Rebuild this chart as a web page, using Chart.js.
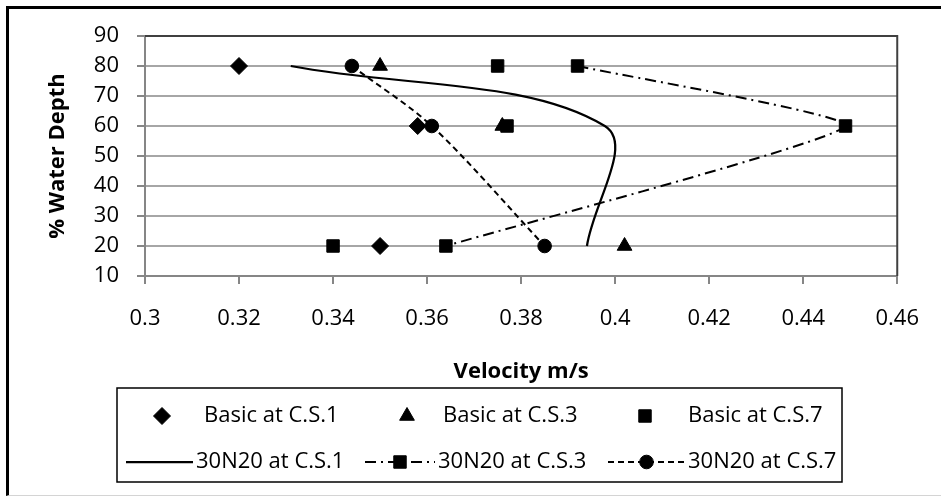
<!DOCTYPE html>
<html>
<head>
<meta charset="utf-8">
<script src="https://cdn.jsdelivr.net/npm/chart.js@4.4.1/dist/chart.umd.min.js"></script>
<style>
    html, body { margin: 0; padding: 0; background: #fff; }
    #frame { position: absolute; left: 6px; top: 6px; width: 1000px; height: 486px;
             border-left: 3px solid #000; border-top: 3px solid #000; border-bottom: 1px solid #d4d4d4; }
    #wrap { position: absolute; left: 0; top: 0; width: 941px; height: 497px; }
</style>
</head>
<body>
<div id="frame"></div>
<div id="wrap"><canvas id="depthChart" width="941" height="497"></canvas></div>
<script>
// depths (% water depth) shared by every series
const depths = [80, 60, 20];

// velocities (m/s)
const basicCS1 = [0.32, 0.358, 0.35];
const basicCS3 = [0.35, 0.376, 0.402];
const basicCS7 = [0.375, 0.377, 0.34];
const n30N20CS1 = [0.331, 0.3978, 0.394];
const n30N20CS3 = [0.392, 0.449, 0.364];
const n30N20CS7 = [0.344, 0.361, 0.385];

const seriesLabels = ['Basic at C.S.1', 'Basic at C.S.3', 'Basic at C.S.7',
                      '30N20 at C.S.1', '30N20 at C.S.3', '30N20 at C.S.7'];

const xTicks = [0.3, 0.32, 0.34, 0.36, 0.38, 0.4, 0.42, 0.44, 0.46];
const yTicks = [10, 20, 30, 40, 50, 60, 70, 80, 90];

const FONT = "'Open Sans', 'Liberation Sans', sans-serif";
const FONT_SIZE = 22;

function points(vel) {
    return vel.map((v, i) => ({ x: v, y: depths[i] }));
}

// top and right edges of the plot area are darker in the original
const plotFrame = {
    id: 'plotFrame',
    beforeDatasetsDraw(chart) {
        const { ctx, chartArea: a } = chart;
        ctx.save();
        ctx.strokeStyle = '#404040';
        ctx.lineWidth = 2;
        ctx.beginPath();
        ctx.moveTo(a.left, a.top);
        ctx.lineTo(a.right, a.top);
        ctx.lineTo(a.right, a.bottom);
        ctx.stroke();
        ctx.restore();
    }
};

// legend boxed under the axis title, 3 entries per row, line samples with markers
const boxLegend = {
    id: 'boxLegend',
    afterDraw(chart) {
        const ctx = chart.ctx;
        const box = { left: 117, top: 388, right: 842, bottom: 482 };
        const rowsY = [416, 462];
        const slots = [
            { mx: 162, tx: 204 }, { mx: 407, tx: 443 }, { mx: 645, tx: 688 },
            { x0: 126, x1: 193, tx: 196 }, { x0: 365, x1: 435, tx: 438 }, { x0: 608, x1: 685, tx: 688 }
        ];
        ctx.save();
        ctx.strokeStyle = '#000';
        ctx.lineWidth = 1.5;
        ctx.strokeRect(box.left, box.top, box.right - box.left, box.bottom - box.top);

        chart.data.datasets.forEach((ds, i) => {
            const s = slots[i];
            const y = rowsY[i < 3 ? 0 : 1];
            let mx = s.mx;
            if (ds.showLine) {
                ctx.save();
                ctx.strokeStyle = ds.borderColor;
                ctx.lineWidth = ds.borderWidth;
                ctx.setLineDash(ds.borderDash || []);
                ctx.beginPath();
                ctx.moveTo(s.x0, y);
                ctx.lineTo(s.x1, y);
                ctx.stroke();
                ctx.restore();
                mx = (s.x0 + s.x1) / 2;
            }
            if (ds.pointRadius > 0) {
                ctx.fillStyle = ds.backgroundColor;
                ctx.strokeStyle = ds.borderColor;
                ctx.lineWidth = 1;
                ctx.setLineDash([]);
                Chart.helpers.drawPoint(ctx, {
                    pointStyle: ds.pointStyle, radius: ds.pointRadius, rotation: 0, borderWidth: 1
                }, mx, y);
            }
            ctx.fillStyle = '#000';
            ctx.font = FONT_SIZE + 'px ' + FONT;
            ctx.textAlign = 'left';
            ctx.textBaseline = 'middle';
            ctx.fillText(ds.label, s.tx, y);
        });
        ctx.restore();
    }
};

const ctx = document.getElementById('depthChart').getContext('2d');

const markerBase = { backgroundColor: '#000', borderColor: '#000', borderWidth: 1, pointBorderWidth: 1 };

new Chart(ctx, {
    type: 'scatter',
    data: {
        datasets: [
            Object.assign({ label: seriesLabels[0], data: points(basicCS1), showLine: false,
                pointStyle: 'rectRot', pointRadius: 8.5 }, markerBase),
            Object.assign({ label: seriesLabels[1], data: points(basicCS3), showLine: false,
                pointStyle: 'triangle', pointRadius: 8.5 }, markerBase),
            Object.assign({ label: seriesLabels[2], data: points(basicCS7), showLine: false,
                pointStyle: 'rect', pointRadius: 8.8 }, markerBase),
            { label: seriesLabels[3], data: points(n30N20CS1), showLine: true,
                borderColor: '#000', backgroundColor: '#000', borderWidth: 2.25,
                pointRadius: 0, tension: 0.36 },
            { label: seriesLabels[4], data: points(n30N20CS3), showLine: true,
                borderColor: '#000', backgroundColor: '#000', borderWidth: 2, borderDash: [11, 5, 2, 5],
                pointStyle: 'rect', pointRadius: 8.8, pointBorderWidth: 1, tension: 0.15 },
            { label: seriesLabels[5], data: points(n30N20CS7), showLine: true,
                borderColor: '#000', backgroundColor: '#000', borderWidth: 2, borderDash: [6, 4],
                pointStyle: 'circle', pointRadius: 6.8, pointBorderWidth: 1, tension: 0.3 }
        ]
    },
    options: {
        responsive: false,
        animation: false,
        layout: { padding: { left: 0, top: 36, right: 41, bottom: 112 } },
        plugins: {
            legend: { display: false },
            tooltip: { enabled: false }
        },
        scales: {
            x: {
                type: 'linear',
                min: 0.3,
                max: 0.46,
                afterBuildTicks: s => { s.ticks = xTicks.map(v => ({ value: v })); },
                afterFit: s => { s.height = 109; },
                grid: { drawOnChartArea: false, drawTicks: true, tickLength: 8, color: '#868686', lineWidth: 2 },
                border: { display: true, color: '#868686', width: 2 },
                ticks: {
                    padding: 22,
                    color: '#000',
                    font: { family: FONT, size: FONT_SIZE },
                    callback: v => String(Number(v.toFixed(2)))
                },
                title: {
                    display: true,
                    text: 'Velocity m/s',
                    color: '#000',
                    font: { family: FONT, size: FONT_SIZE, weight: 'bold' },
                    padding: { top: 0, bottom: 0 }
                }
            },
            y: {
                type: 'linear',
                min: 10,
                max: 90,
                afterBuildTicks: s => { s.ticks = yTicks.map(v => ({ value: v })); },
                afterFit: s => { s.width = 145; },
                grid: { color: '#a6a6a6', lineWidth: 2, tickLength: 8, tickColor: '#868686' },
                border: { display: true, color: '#868686', width: 2 },
                ticks: {
                    padding: 18,
                    color: '#000',
                    font: { family: FONT, size: FONT_SIZE }
                },
                title: {
                    display: true,
                    text: '% Water Depth',
                    color: '#000',
                    font: { family: FONT, size: FONT_SIZE, weight: 'bold' },
                    padding: { top: 45, bottom: 0 }
                }
            }
        }
    },
    plugins: [plotFrame, boxLegend]
});
</script>
</body>
</html>
